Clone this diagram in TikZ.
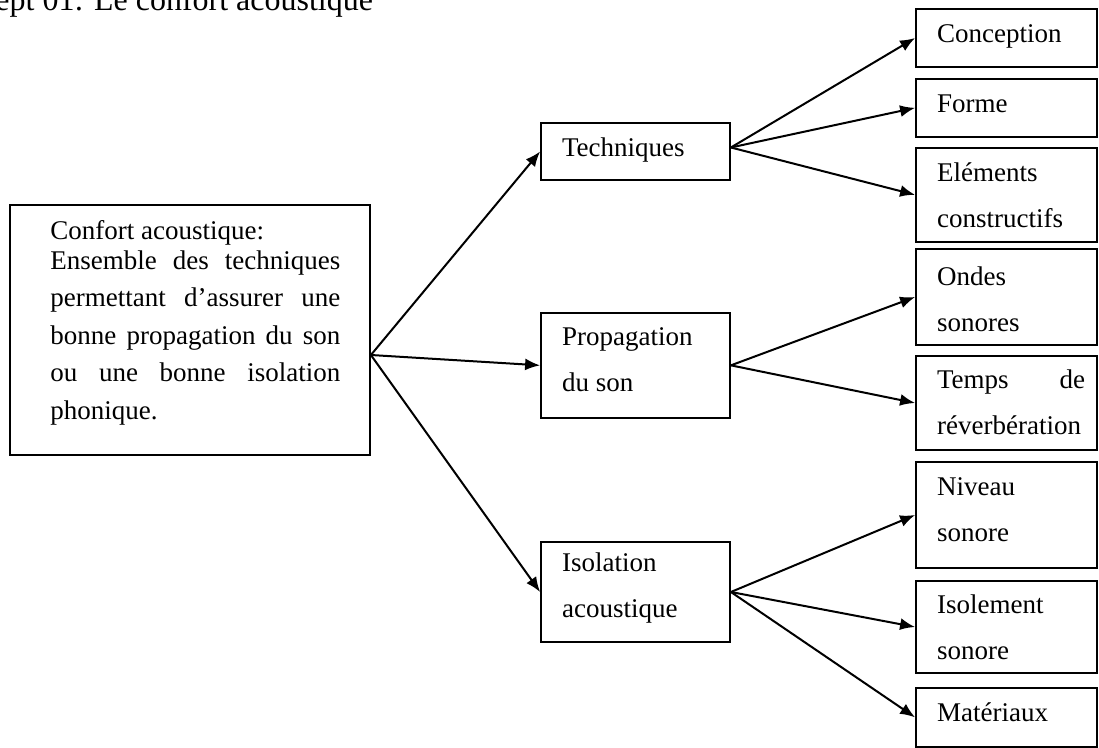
\documentclass[tikz,border=0pt]{standalone}
\usepackage{fontspec}
\setmainfont{Liberation Serif}
\usetikzlibrary{arrows.meta,fit}
\tikzset{
  box/.style={draw, line width=0.9pt, inner sep=0pt},
  lbl/.style={anchor=base west, inner sep=0pt, align=left, font=\fontsize{13.5}{23}\selectfont},
  link/.style={->, line width=1pt},
}
\begin{document}
\begin{tikzpicture}[>={Latex[length=7.5pt,width=6pt]}, x=0.5pt, y=-0.5pt]
      \useasboundingbox (0,0) rectangle (1099,748);
      % title
      \node[lbl, font=\fontsize{16}{19}\selectfont] (title) at (-5,11) {ept 01: Le confort acoustique};
      % main box
      \node[box, fit={(10,205)(370,455)}] (conf) {};
      \node[lbl, font=\fontsize{13.5}{18.75}\selectfont] (confT) at (50,419.5)
        {Confort acoustique:\\[-3.75pt]
         \makebox[145pt][s]{Ensemble des techniques}\\
         \makebox[145pt][s]{permettant d'assurer une}\\
         \makebox[145pt][s]{bonne propagation du son}\\
         \makebox[145pt][s]{ou une bonne isolation}\\
         phonique.};
      % middle boxes
      \node[box, fit={(541,123)(730,180)}] (tech) {};
      \node[lbl] (techT) at (561.7,156.7) {Techniques};
      \node[box, fit={(541,312.7)(730,418)}] (prop) {};
      \node[lbl] (propT) at (561.7,391.7) {Propagation\\du son};
      \node[box, fit={(541,542)(730,642)}] (isoa) {};
      \node[lbl] (isoaT) at (561.7,618) {Isolation\\acoustique};
      % right boxes
      \node[box, fit={(916,9.3)(1097,66.7)}] (conc) {};
      \node[lbl] (concT) at (936.7,43) {Conception};
      \node[box, fit={(916,79)(1097,136.7)}] (forme) {};
      \node[lbl] (formeT) at (936.7,113) {Forme};
      \node[box, fit={(916,147.7)(1097,242)}] (elem) {};
      \node[lbl] (elemT) at (936.7,228) {Eléments\\constructifs};
      \node[box, fit={(916,249)(1097,345)}] (ondes) {};
      \node[lbl] (ondesT) at (936.7,332) {Ondes\\sonores};
      \node[box, fit={(916,356)(1097,450)}] (temps) {};
      \node[lbl] (tempsT) at (936.7,435) {\makebox[74pt][s]{Temps de}\\réverbération};
      \node[box, fit={(916,462)(1097,568)}] (niv) {};
      \node[lbl] (nivT) at (936.7,541.7) {Niveau\\sonore};
      \node[box, fit={(916,581)(1097,673)}] (isol) {};
      \node[lbl] (isolT) at (936.7,660) {Isolement\\sonore};
      \node[box, fit={(916,688)(1097,746.7)}] (mat) {};
      \node[lbl] (matT) at (936.7,722) {Matériaux};
      % arrows
      \foreach \t in {tech,prop,isoa}
        \draw[link] ([yshift=-12.5pt]conf.east) -- (\t.west);
      \foreach \t in {conc,forme,elem}
        \draw[link] ([yshift=2pt]tech.east) -- (\t.west);
      \foreach \t in {ondes,temps}
        \draw[link] (prop.east) -- (\t.west);
      \foreach \t in {niv,isol,mat}
        \draw[link] (isoa.east) -- (\t.west);
    \end{tikzpicture}
\end{document}
